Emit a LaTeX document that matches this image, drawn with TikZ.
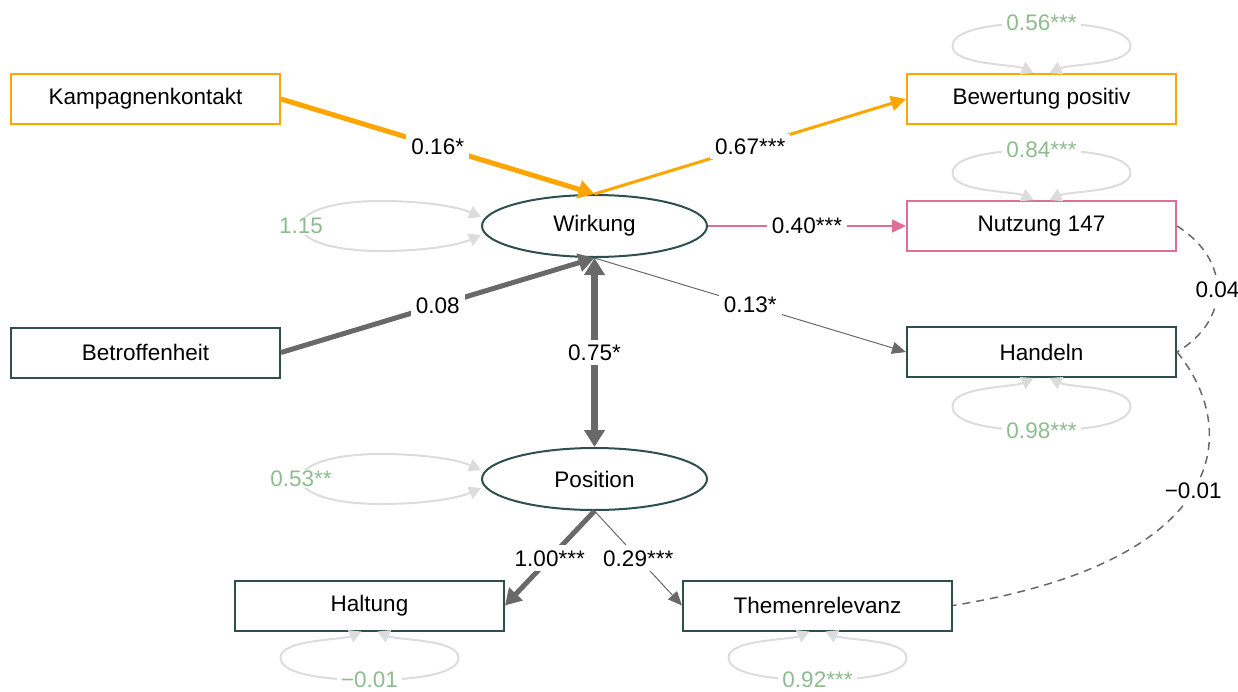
\documentclass[tikz,border=0pt]{standalone}
\usepackage{fontspec}
\setmainfont{Liberation Sans}
\usetikzlibrary{shapes.geometric,arrows.meta}
\definecolor{orng}{HTML}{FFA500}
\definecolor{pnk}{HTML}{DB7093}
\definecolor{dslate}{HTML}{2F4F4F}
\definecolor{egray}{HTML}{696969}
\definecolor{lgray}{HTML}{DCDCDC}
\definecolor{sgreen}{HTML}{8FBC8F}
\newcommand{\toploop}[3]{%
  \draw[loopst, shift={(#1)}, yscale=#3] (-8,0) .. controls (-28,-9) and (-89,-8) .. (-89,-27)
    .. controls (-89,-44) and (-45,-50) .. (0,-50) node[vlab]{#2}
    .. controls (45,-50) and (89,-44) .. (89,-27)
    .. controls (89,-8) and (28,-9) .. (8,0);}
\newcommand{\sideloop}[2]{%
  \draw[loopst, shift={(#1)}] (0,-9) .. controls (-25,-20) and (-60,-25) .. (-100,-25)
    .. controls (-150,-25) and (-180,-14) .. (-180,0) node[vlab]{#2}
    .. controls (-180,14) and (-150,25) .. (-100,25)
    .. controls (-60,25) and (-25,20) .. (0,9);}
\begin{document}
\begin{tikzpicture}[x=1pt,y=-1pt,
  every node/.style={font=\fontsize{22.5}{27}\selectfont},
  box/.style={draw, rectangle, line width=2pt, minimum width=269pt, minimum height=50pt, fill=white, inner sep=0pt},
  latent/.style={draw=dslate, ellipse, line width=2pt, minimum width=225pt, minimum height=62pt, fill=white, inner sep=0pt},
  elab/.style={fill=white, inner sep=5pt, text=black},
  vlab/.style={fill=white, inner xsep=4pt, inner ysep=1pt, text=sgreen},
  loopst/.style={draw=lgray, line width=2pt, arrows={Triangle[length=12pt,width=13pt]-Triangle[length=12pt,width=13pt]}},
  covst/.style={draw=egray, line width=1.5pt, dash pattern=on 8pt off 6pt}
]
\useasboundingbox (0,0) rectangle (1238,691);
% nodes
\node[box, draw=orng] (kk) at (145.5,99) {Kampagnenkontakt};
\node[box, draw=dslate] (bt) at (145.5,352.5) {Betroffenheit};
\node[box, draw=orng] (bp) at (1041.5,99) {Bewertung positiv};
\node[box, draw=pnk] (nu) at (1041.5,226) {Nutzung 147};
\node[box, draw=dslate] (ha) at (1041.5,352) {Handeln};
\node[box, draw=dslate] (hl) at (369.5,605.5) {Haltung};
\node[box, draw=dslate] (th) at (817.5,605.5) {Themenrelevanz};
\node[latent] (wi) at (594.5,226) {Wirkung};
\node[latent] (po) at (594.5,479) {Position};
% residual loops
\toploop{bp.north}{0.56***}{1}
\toploop{nu.north}{0.84***}{1}
\toploop{ha.south}{0.98***}{-1.05}
\toploop{hl.south}{\textminus0.01}{-0.97}
\toploop{th.south}{0.92***}{-0.97}
\sideloop{wi.west}{1.15}
\sideloop{po.west}{0.53**}
% paths
\draw[line width=5pt, orng, -{Triangle[length=16pt,width=18pt]}] (kk.east) -- node[elab]{0.16*} (wi.north);
\draw[line width=3pt, orng, -{Triangle[length=15pt,width=15pt]}] (wi.north) -- node[elab]{0.67***} (bp.west);
\draw[line width=1.5pt, pnk, -{Triangle[length=14pt,width=13pt]}] (wi.east) -- node[elab]{0.40***} (nu.west);
\draw[line width=5pt, egray, -{Triangle[length=16pt,width=18pt]}] (bt.east) -- node[elab]{0.08} (wi.south);
\draw[line width=1pt, egray, -{Triangle[length=14pt,width=12pt]}] (wi.south) -- node[elab]{0.13*} (ha.west);
\draw[line width=6.5pt, egray, {Triangle[length=17pt,width=20pt]}-{Triangle[length=17pt,width=20pt]}] (wi.south) -- node[elab]{0.75*} (po.north);
\draw[line width=5pt, egray, -{Triangle[length=16pt,width=18pt]}] (po.south) -- node[elab]{1.00***} (hl.east);
\draw[line width=1pt, egray, -{Triangle[length=14pt,width=12pt]}] (po.south) -- node[elab]{0.29***} (th.west);
% covariances
\draw[covst] (nu.east) .. controls +(54,34) and +(54,-32) .. node[elab]{0.04} (ha.east);
\draw[covst] (ha.east) .. controls +(64,78) and +(278,-45) .. node[elab]{\textminus0.01} (th.east);
\end{tikzpicture}
\end{document}
